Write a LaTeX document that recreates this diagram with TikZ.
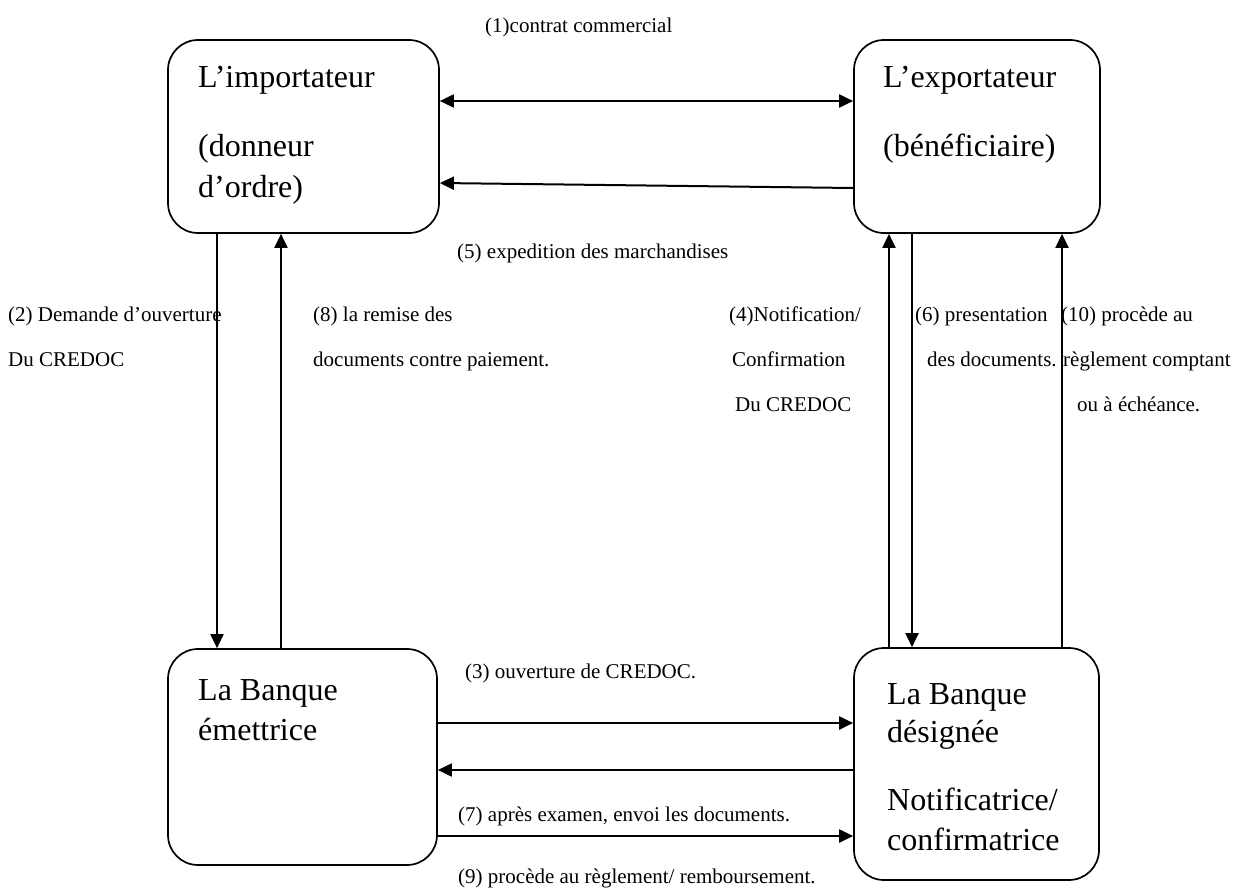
\documentclass[tikz,border=0pt]{standalone}
\usepackage{fontspec}
\setmainfont{Liberation Serif}
\usetikzlibrary{arrows.meta}
\begin{document}
\begin{tikzpicture}[x=1pt,y=-1pt,
  box/.style={draw, line width=1.7pt, rounded corners=30pt, rectangle, inner sep=0pt},
  boxtxt/.style={font=\fontsize{32}{38}\selectfont, anchor=base west, inner sep=0pt},
  lbl/.style={font=\fontsize{21}{25}\selectfont, anchor=base west, inner sep=0pt},
  arr/.style={line width=2pt, -{Triangle[length=14pt,width=13pt]}},
  darr/.style={line width=2pt, {Triangle[length=14pt,width=13pt]}-{Triangle[length=14pt,width=13pt]}}]
\useasboundingbox (0,0) rectangle (1236,888);
% boxes
\node[box, minimum width=271pt, minimum height=193pt] (imp) at (303.5,136.5) {};
\node[box, minimum width=246pt, minimum height=193pt] (exp) at (977,136.5) {};
\node[box, minimum width=269pt, minimum height=216pt] (bem) at (302.5,757) {};
\node[box, minimum width=245pt, minimum height=232pt] (bde) at (976.5,764) {};
% box texts
\node[boxtxt] (t1) at (198,88) {L’importateur};
\node[boxtxt] (t2) at (198,156) {(donneur};
\node[boxtxt] (t3) at (198,197) {d’ordre)};
\node[boxtxt] (t4) at (883,88) {L’exportateur};
\node[boxtxt] (t5) at (883,156) {(bénéficiaire)};
\node[boxtxt] (t6) at (198,700) {La Banque};
\node[boxtxt] (t7) at (198,740) {émettrice};
\node[boxtxt] (t8) at (887,704) {La Banque};
\node[boxtxt] (t9) at (887,742) {désignée};
\node[boxtxt] (t10) at (887,810) {Notificatrice/};
\node[boxtxt] (t11) at (887,850) {confirmatrice};
% helper coordinates
\coordinate (y1) at (0,101);
\coordinate (y5a) at (0,188);
\coordinate (y5b) at (0,183);
\coordinate (x2) at (217,0);
\coordinate (x8) at (281,0);
\coordinate (x4) at (889,0);
\coordinate (x6) at (912,0);
\coordinate (x10) at (1062,0);
\coordinate (y3) at (0,723);
\coordinate (y9) at (0,770);
\coordinate (y7) at (0,836);
% connectors
\draw[darr] (imp.east |- y1) -- (exp.west |- y1);
\draw[arr] (exp.west |- y5a) -- (imp.east |- y5b);
\draw[arr] (imp.south -| x2) -- (bem.north -| x2);
\draw[arr] (bem.north -| x8) -- (imp.south -| x8);
\draw[arr] (bde.north -| x4) -- (exp.south -| x4);
\draw[arr] (exp.south -| x6) -- (bde.north -| x6);
\draw[arr] (bde.north -| x10) -- (exp.south -| x10);
\draw[arr] (bem.east |- y3) -- (bde.west |- y3);
\draw[arr] (bde.west |- y9) -- (bem.east |- y9);
\draw[arr] (bem.east |- y7) -- (bde.west |- y7);
% labels
\node[lbl] (l1) at (485,33) {(1)contrat commercial};
\node[lbl] (l5) at (457,258) {(5) expedition des marchandises};
\node[lbl] (l2a) at (8,321) {(2) Demande d’ouverture};
\node[lbl] (l2b) at (8,366) {Du CREDOC};
\node[lbl] (l8a) at (313,321) {(8) la remise des};
\node[lbl] (l8b) at (313,366) {documents contre paiement.};
\node[lbl] (l4a) at (729,321) {(4)Notification/};
\node[lbl] (l4b) at (732,366) {Confirmation};
\node[lbl] (l4c) at (735,411) {Du CREDOC};
\node[lbl] (l6a) at (915,321) {(6) presentation};
\node[lbl] (l6b) at (927,366) {des documents.};
\node[lbl] (l10a) at (1061,321) {(10) procède au};
\node[lbl] (l10b) at (1063,366) {règlement comptant};
\node[lbl] (l10c) at (1077,411) {ou à échéance.};
\node[lbl] (l3) at (465,678) {(3) ouverture de CREDOC.};
\node[lbl] (l7) at (458,821) {(7) après examen, envoi les documents.};
\node[lbl] (l9) at (458,883) {(9) procède au règlement/ remboursement.};
\end{tikzpicture}
\end{document}
